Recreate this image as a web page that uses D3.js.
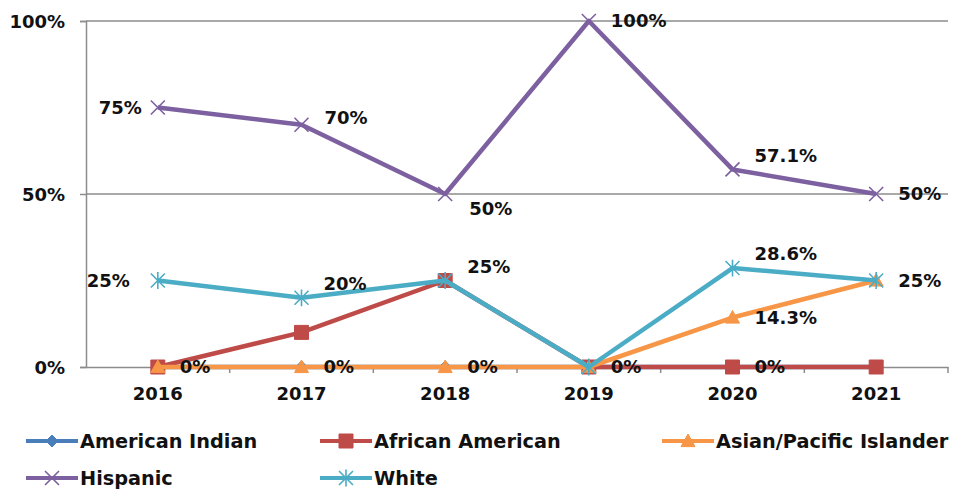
<!DOCTYPE html>
<html>
<head>
<meta charset="utf-8">
<script src="https://cdn.jsdelivr.net/npm/d3@7"></script>
<style>
  html, body { margin: 0; padding: 0; background: #fff; }
  svg { display: block; }
  svg text { font-family: "DejaVu Sans", sans-serif; font-weight: 700; }
</style>
</head>
<body>
<svg id="chart" width="955" height="491"></svg>
<script>
// Years on the category axis
const years = ["2016", "2017", "2018", "2019", "2020", "2021"];

// Share of each group per year
const americanIndian   = [0, 0, 0, 0, 0, 0];
const africanAmerican  = [0, 0.10, 0.25, 0, 0, 0];
const asianPacific     = [0, 0, 0, 0, 0.143, 0.25];
const hispanic         = [0.75, 0.70, 0.50, 1.00, 0.571, 0.50];
const white            = [0.25, 0.20, 0.25, 0, 0.286, 0.25];

// Value axis ticks
const yTicks = [0, 0.5, 1];

// Series names, in drawing order
const seriesNames = ["American Indian", "African American", "Asian/Pacific Islander", "Hispanic", "White"];
const seriesValues = [americanIndian, africanAmerican, asianPacific, hispanic, white];

// Visual style of each series
const styles = [
  { color: "#4a7ebb", marker: "diamond" },
  { color: "#be4b48", marker: "square" },
  { color: "#f79646", marker: "triangle" },
  { color: "#7d60a0", marker: "x" },
  { color: "#4bacc6", marker: "star" }
];

// Which points carry a value label and on which side of the point it sits
const labelSpots = [
  { s: 3, i: 0, pos: "left" },
  { s: 3, i: 1, pos: "rightHigh" },
  { s: 3, i: 2, pos: "below" },
  { s: 3, i: 3, pos: "right" },
  { s: 3, i: 4, pos: "aboveRight" },
  { s: 3, i: 5, pos: "right" },
  { s: 4, i: 0, pos: "leftFar" },
  { s: 4, i: 1, pos: "aboveRight" },
  { s: 1, i: 2, pos: "aboveRight" },
  { s: 4, i: 4, pos: "aboveRight" },
  { s: 4, i: 5, pos: "right" },
  { s: 2, i: 0, pos: "right" },
  { s: 2, i: 1, pos: "right" },
  { s: 2, i: 2, pos: "right" },
  { s: 2, i: 3, pos: "right" },
  { s: 2, i: 4, pos: "right" },
  { s: 1, i: 4, pos: "right" }
];

const svg = d3.select("#chart");
const margin = { left: 86, right: 7, top: 21, bottom: 124 };
const W = 955, H = 491;
const FS = 18;
const LEGEND_FS = 19.3;

const x = d3.scaleBand().domain(years).range([margin.left, W - margin.right]);
const y = d3.scaleLinear().domain([0, 1]).range([H - margin.bottom, margin.top]);
const cx = d => x(d) + x.bandwidth() / 2;

const gridColor = "#8c8c8c";

// Horizontal gridlines (above zero)
svg.append("g").selectAll("line")
  .data(yTicks.filter(t => t > 0))
  .join("line")
  .attr("x1", margin.left).attr("x2", W - margin.right)
  .attr("y1", d => y(d)).attr("y2", d => y(d))
  .attr("stroke", gridColor).attr("stroke-width", 1.5);

// Value axis
const yAxis = svg.append("g")
  .attr("transform", `translate(${margin.left},0)`)
  .call(d3.axisLeft(y).tickValues(yTicks).tickFormat(d3.format(".0%")).tickSize(6).tickPadding(15))
  .attr("font-family", null).attr("font-size", FS);
yAxis.select(".domain").attr("stroke", gridColor).attr("stroke-width", 1.5);
yAxis.selectAll(".tick line").attr("stroke", gridColor).attr("stroke-width", 1.5);
yAxis.selectAll(".tick text").attr("fill", "#111").attr("dy", "0.35em");

// Category axis
const xAxis = svg.append("g")
  .attr("transform", `translate(0,${y(0)})`)
  .call(d3.axisBottom(x).tickSize(0).tickPadding(20))
  .attr("font-family", null).attr("font-size", FS);
xAxis.select(".domain").attr("stroke", gridColor).attr("stroke-width", 1.5);
xAxis.selectAll(".tick text").attr("fill", "#111");
// Small tick marks between categories
svg.append("g").selectAll("line")
  .data(years)
  .join("line")
  .attr("x1", d => x(d) + x.bandwidth())
  .attr("x2", d => x(d) + x.bandwidth())
  .attr("y1", y(0)).attr("y2", y(0) + 6)
  .attr("stroke", gridColor).attr("stroke-width", 1.5);

// Marker shapes
function markerPath(type, s) {
  switch (type) {
    case "diamond": return `M0,${-s}L${s},0L0,${s}L${-s},0Z`;
    case "square": return `M${-s},${-s}H${s}V${s}H${-s}Z`;
    case "triangle": return `M0,${-s}L${s},${s * 0.8}H${-s}Z`;
    case "x": return `M${-s},${-s}L${s},${s}M${-s},${s}L${s},${-s}`;
    case "star": return `M${-s},${-s}L${s},${s}M${-s},${s}L${s},${-s}M0,${-s * 1.2}V${s * 1.2}`;
  }
}
function drawMarker(g, type, color, size) {
  const filled = type === "diamond" || type === "square" || type === "triangle";
  g.append("path")
    .attr("d", markerPath(type, size))
    .attr("fill", filled ? color : "none")
    .attr("stroke", color)
    .attr("stroke-width", filled ? 1 : 1.6);
}
const markerSize = { diamond: 6, square: 7, triangle: 7, x: 7, star: 7 };

const line = d3.line().x((d, i) => cx(years[i])).y(d => y(d));

seriesValues.forEach((vals, s) => {
  const st = styles[s];
  const g = svg.append("g");
  g.append("path")
    .attr("d", line(vals))
    .attr("fill", "none")
    .attr("stroke", st.color)
    .attr("stroke-width", 4.5)
    .attr("stroke-linejoin", "round");
  vals.forEach((v, i) => {
    const m = g.append("g").attr("transform", `translate(${cx(years[i])},${y(v)})`);
    drawMarker(m, st.marker, st.color, markerSize[st.marker]);
  });
});

// Value labels
const fmt = v => (Math.round(v * 1000) % 10 === 0 ? d3.format(".0%")(v) : d3.format(".1%")(v));
labelSpots.forEach(l => {
  const v = seriesValues[l.s][l.i];
  const px = cx(years[l.i]), py = y(v);
  let tx = px, ty = py, anchor = "start";
  if (l.pos === "left") { tx = px - 16; anchor = "end"; }
  else if (l.pos === "leftFar") { tx = px - 28; anchor = "end"; }
  else if (l.pos === "right") { tx = px + 22; }
  else if (l.pos === "rightHigh") { tx = px + 23; ty = py - 7; }
  else if (l.pos === "below") { tx = px + 24; ty = py + 15; }
  else if (l.pos === "aboveRight") { tx = px + 22; ty = py - 14; }
  svg.append("text")
    .attr("x", tx).attr("y", ty).attr("dy", "0.35em")
    .attr("text-anchor", anchor)
    .attr("font-size", FS).attr("fill", "#111")
    .text(fmt(v));
});

// Legend
const legendPos = [
  { x: 26, y: 441 }, { x: 320, y: 441 }, { x: 662, y: 441 },
  { x: 26, y: 478 }, { x: 320, y: 478 }
];
seriesNames.forEach((name, s) => {
  const p = legendPos[s];
  const g = svg.append("g").attr("transform", `translate(${p.x},${p.y})`);
  g.append("line").attr("x1", 0).attr("x2", 52).attr("y1", 0).attr("y2", 0)
    .attr("stroke", styles[s].color).attr("stroke-width", 4);
  const m = g.append("g").attr("transform", "translate(26,0)");
  drawMarker(m, styles[s].marker, styles[s].color, markerSize[styles[s].marker]);
  g.append("text").attr("x", 54).attr("dy", "0.35em")
    .attr("font-size", LEGEND_FS).attr("fill", "#111").text(name);
});
</script>
</body>
</html>
